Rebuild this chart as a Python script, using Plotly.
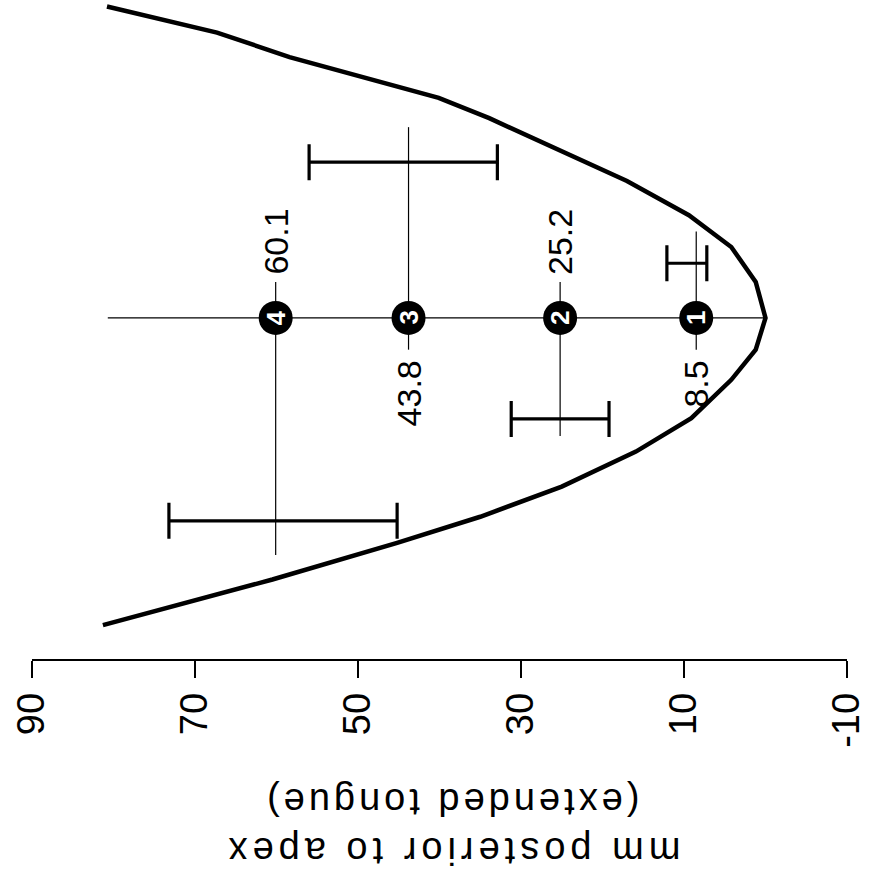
import plotly.graph_objects as go

# -------------------------------------------------
# DATOS
# -------------------------------------------------
# puntos sobre la línea media, mm posterior al ápice
point_pos = [8.5, 25.2, 43.8, 60.1]
point_num = ["1", "2", "3", "4"]
point_text = ["8.5", "25.2", "43.8", "60.1"]
label_side = ["below", "above", "below", "above"]

# barras de error (extremos) y su nivel lateral
err_low = [7.2, 19.2, 32.9, 45.2]
err_high = [12.1, 31.2, 56.0, 73.2]
err_level = [6.7, -12.4, 19.1, -24.9]

# líneas perpendiculares por cada punto
stub_end = [-3.9, 4.4, -3.9, 4.4]
line_end = [10.6, -14.5, 23.4, -29.1]

# línea media
midline_x = [0, 80.7]
midline_y = [0, 0]

# contorno de la lengua
outline_x = [80.8, 67.3, 58.4, 48.2, 40.1, 33.9, 26.7, 21.8, 17.0, 9.4, 4.2, 1.2, 0,
             1.2, 4.2, 9.1, 15.9, 25.0, 35.0, 45.2, 60.5, 81.3]
outline_y = [38.2, 35.0, 32.0, 29.2, 27.0, 24.5, 21.2, 19.1, 16.8, 12.6, 8.7, 4.4, 0,
             -3.9, -7.6, -12.3, -16.4, -20.7, -24.4, -27.6, -32.1, -37.7]

tick_vals = [90, 70, 50, 30, 10, -10]
tick_text = ["90", "70", "50", "30", "10", "-10"]

sans = "Liberation Sans, Arial, sans-serif"

fig = go.Figure()

# contorno
fig.add_trace(go.Scatter(x=outline_x, y=outline_y, mode="lines",
                         line=dict(color="black", width=4.5), hoverinfo="skip"))

# línea media
fig.add_trace(go.Scatter(x=midline_x, y=midline_y, mode="lines",
                         line=dict(color="black", width=1.2), hoverinfo="skip"))

# líneas perpendiculares
for p, s, e in zip(point_pos, stub_end, line_end):
    fig.add_trace(go.Scatter(x=[p, p], y=[s, e], mode="lines",
                             line=dict(color="black", width=1.2), hoverinfo="skip"))

# barras de error
fig.add_trace(go.Scatter(
    x=point_pos, y=err_level, mode="markers",
    marker=dict(size=1, color="rgba(0,0,0,0)"),
    error_x=dict(type="data", symmetric=False,
                 array=[h - p for h, p in zip(err_high, point_pos)],
                 arrayminus=[p - l for l, p in zip(err_low, point_pos)],
                 color="black", thickness=3.2, width=18),
    hoverinfo="skip"))

# marcadores numerados
fig.add_trace(go.Scatter(x=point_pos, y=[0] * len(point_pos), mode="markers",
                         marker=dict(size=34, color="black", symbol="circle"),
                         hoverinfo="skip"))

annotations = []
for p, n, t, side in zip(point_pos, point_num, point_text, label_side):
    annotations.append(dict(x=p, y=0, xref="x", yref="y", text="<b>" + n + "</b>",
                            showarrow=False, textangle=-90,
                            font=dict(family=sans, size=26, color="white")))
    annotations.append(dict(x=p, y=0, xref="x", yref="y", text=t, showarrow=False,
                            textangle=-90,
                            yanchor="bottom" if side == "above" else "top",
                            yshift=41 if side == "above" else -41,
                            font=dict(family=sans, size=34, color="black")))

# título del eje (girado 180°)
annotations.append(dict(x=0.515, y=-0.218, xref="paper", yref="paper",
                        text='<span style="letter-spacing:4px">(extended tongue)</span>',
                        showarrow=False, textangle=180, yanchor="middle",
                        font=dict(family=sans, size=38, color="black")))
annotations.append(dict(x=0.515, y=-0.291, xref="paper", yref="paper",
                        text='<span style="letter-spacing:5px">mm posterior to apex</span>',
                        showarrow=False, textangle=180, yanchor="middle",
                        font=dict(family=sans, size=38, color="black")))

fig.update_layout(
    width=872, height=880,
    margin=dict(l=32, r=25, t=0, b=221),
    plot_bgcolor="white", paper_bgcolor="white",
    showlegend=False,
    annotations=annotations,
    xaxis=dict(range=[90, -10], tickvals=tick_vals, ticktext=tick_text,
               ticks="outside", ticklen=17, tickwidth=1.5, tickcolor="black",
               showline=True, linecolor="black", linewidth=1.5,
               showgrid=False, zeroline=False, tickangle=-90,
               ticklabelstandoff=0,
               tickfont=dict(family=sans, size=38, color="black")),
    yaxis=dict(visible=False, range=[-41.85, 39.0]),
)

fig.write_html("out.html", config={"displayModeBar": False},
               post_script="document.body.style.margin = '0';")
